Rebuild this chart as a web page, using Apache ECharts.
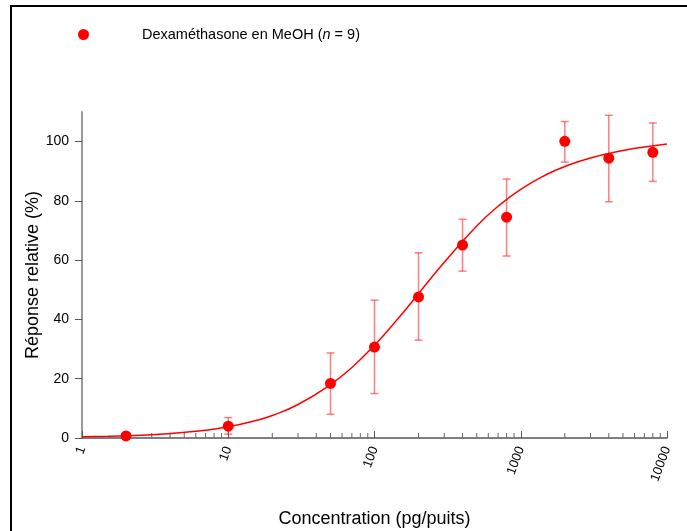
<!DOCTYPE html>
<html>
<head>
<meta charset="utf-8">
<script src="https://cdn.jsdelivr.net/npm/echarts@6/dist/echarts.min.js"></script>
<style>html,body{margin:0;padding:0;background:#fff}#c{width:687px;height:531px}</style>
</head>
<body>
<div id="c"></div>
<script>
// Measured points
const concentrations = [2, 10, 50, 100, 200, 400, 800, 2000, 4000, 8000];
const responses      = [0.7, 4.0, 18.4, 30.7, 47.6, 65.1, 74.5, 100.1, 94.4, 96.4];
const errLow         = [0.2, 1.3, 8.0, 15.0, 33.0, 56.3, 61.4, 93.1, 79.7, 86.6];
const errHigh        = [1.2, 6.9, 28.7, 46.5, 62.5, 73.8, 87.4, 106.8, 108.9, 106.3];
// Fitted curve
const curveX = [1, 1.5, 2, 3, 5, 7, 10, 15, 20, 30, 50, 70, 100, 150, 200, 300, 500, 700, 1000, 1500, 2000, 3000, 5000, 7000, 10000];
const curveY = [0.4, 0.55, 0.72, 1.1, 1.9, 2.65, 3.8, 5.75, 7.6, 11.3, 18.0, 23.8, 31.3, 41.2, 48.7, 59.3, 71.5, 78.2, 83.9, 88.9, 91.6, 94.5, 97.0, 98.2, 99.2];
// Axis ticks
const yTickValues = [0, 20, 40, 60, 80, 100];
const xMinorTicks = [2,3,4,5,6,7,8,9,20,30,40,50,60,70,80,90,200,300,400,500,600,700,800,900,2000,3000,4000,5000,6000,7000,8000,9000];

const chart = echarts.init(document.getElementById('c'));
const FONT = 'Liberation Sans, Arial, sans-serif';

chart.setOption({
  animation: false,
  backgroundColor: '#fff',
  graphic: [{
    type: 'rect', silent: true, z: 100,
    shape: {x: 11, y: 6, width: 690, height: 600},
    style: {fill: 'none', stroke: '#000', lineWidth: 2}
  }],
  legend: {
    data: ['pts'],
    left: 73, top: 22,
    icon: 'circle', itemWidth: 11, itemHeight: 11,
    formatter: function(){ return 'Dexaméthasone en MeOH ({i|n} = 9)'; },
    textStyle: {
      fontFamily: FONT, fontSize: 14.5, color: '#000', padding: [0,0,0,48],
      rich: {i: {fontStyle: 'italic', fontFamily: FONT, fontSize: 14.5, color: '#000'}}
    }
  },
  grid: {left: 82, right: 20, top: 112, height: 326, containLabel: false, outerBoundsMode: 'none'},
  xAxis: {
    type: 'log', logBase: 10, min: 1, max: 10000,
    name: 'Concentration (pg/puits)', nameLocation: 'middle', nameGap: 72, nameMoveOverlap: false,
    nameTextStyle: {fontFamily: FONT, fontSize: 18, color: '#000', verticalAlign: 'top'},
    axisLine: {lineStyle: {color: '#555', width: 1.5}},
    axisTick: {inside: true, length: 7, lineStyle: {color: '#555'}},
    axisLabel: {rotate: 70, fontFamily: FONT, fontSize: 13, color: '#000', margin: 9,
                formatter: function(v){ return String(Math.round(v)); }},
    splitLine: {show: false}
  },
  yAxis: {
    type: 'value', min: 0, max: 110,
    name: 'Réponse relative (%)', nameLocation: 'middle', nameGap: 40, nameMoveOverlap: false,
    nameTextStyle: {fontFamily: FONT, fontSize: 18, color: '#000'},
    axisLine: {show: true, lineStyle: {color: '#999', width: 2}},
    axisTick: {show: true, length: 7, customValues: yTickValues, lineStyle: {color: '#555'}},
    axisLabel: {customValues: yTickValues, fontFamily: FONT, fontSize: 14, color: '#000', margin: 13},
    splitLine: {show: false}
  },
  series: [
    {
      name: 'minor', type: 'custom', silent: true, clip: false, z: 1,
      data: xMinorTicks.map(v => [v, 0]),
      renderItem: function(params, api){
        const p = api.coord([api.value(0), 0]);
        return {type: 'line', shape: {x1: p[0], y1: p[1], x2: p[0], y2: p[1]-5},
                style: {stroke: '#666', lineWidth: 1}};
      }
    },
    {
      name: 'err', type: 'custom', silent: true, z: 2,
      data: concentrations.map((c, i) => [c, errLow[i], errHigh[i]]),
      renderItem: function(params, api){
        const lo = api.coord([api.value(0), api.value(1)]);
        const hi = api.coord([api.value(0), api.value(2)]);
        const w = 4;
        const st = {stroke: 'rgba(255,40,40,0.6)', lineWidth: 1.5};
        return {type: 'group', children: [
          {type: 'line', shape: {x1: lo[0], y1: lo[1], x2: hi[0], y2: hi[1]}, style: st},
          {type: 'line', shape: {x1: lo[0]-w, y1: lo[1], x2: lo[0]+w, y2: lo[1]}, style: st},
          {type: 'line', shape: {x1: hi[0]-w, y1: hi[1], x2: hi[0]+w, y2: hi[1]}, style: st}
        ]};
      }
    },
    {
      name: 'fit', type: 'line', smooth: true, showSymbol: false, z: 3,
      data: curveX.map((x, i) => [x, curveY[i]]),
      lineStyle: {color: '#ff0000', width: 1.5}
    },
    {
      name: 'pts', type: 'scatter', symbol: 'circle', symbolSize: 11, z: 4,
      data: concentrations.map((c, i) => [c, responses[i]]),
      itemStyle: {color: '#ff0000', opacity: 1}
    }
  ]
});
</script>
</body>
</html>
